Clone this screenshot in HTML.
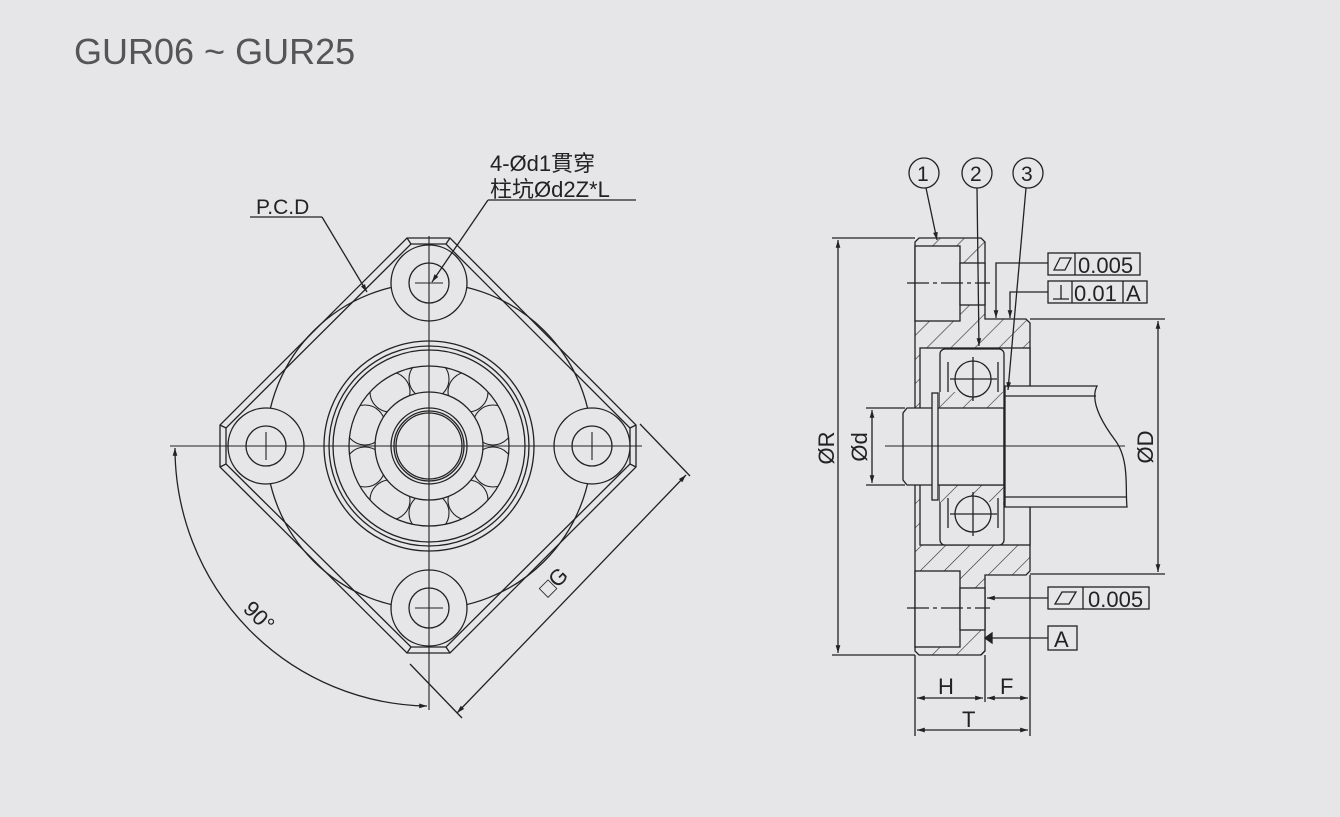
<!DOCTYPE html>
<html><head><meta charset="utf-8"><style>
html,body{margin:0;padding:0;background:#e6e6e8;}
svg{display:block;}
text{font-family:"Liberation Sans","Noto Sans CJK TC",sans-serif;fill:#222;}
</style></head><body>
<svg width="1340" height="817" viewBox="0 0 1340 817" xmlns="http://www.w3.org/2000/svg">
<defs>
<pattern id="h" patternUnits="userSpaceOnUse" width="17" height="17" patternTransform="rotate(-45)">
<rect width="17" height="17" fill="#e6e6e8"/><line x1="0" y1="0" x2="17" y2="0" stroke="#333" stroke-width="1.2"/></pattern>
<marker id="a" viewBox="0 0 10 10" refX="10" refY="5" markerWidth="9" markerHeight="6" orient="auto-start-reverse"><path d="M0,2 L10,5 L0,8 z" fill="#222"/></marker>
<clipPath id="ann"><circle cx="429" cy="446" r="80"/></clipPath>
</defs>
<rect width="1340" height="817" fill="#e6e6e8"/>
<text x="74" y="64" font-size="36" style="fill:#555">GUR06 ~ GUR25</text>

<g stroke="#222" stroke-width="1.3" fill="none">
<!-- LEFT VIEW -->
<path d="M407,238 L450,238 L636,425 L636,467 L450,653 L407,653 L220,467 L220,425 Z"/>
<path d="M411,244 L446,244 L630,428 L630,464 L446,647 L411,647 L226,464 L226,428 Z"/>
<line x1="407" y1="238" x2="411" y2="244"/><line x1="450" y1="238" x2="446" y2="244"/>
<line x1="407" y1="653" x2="411" y2="647"/><line x1="450" y1="653" x2="446" y2="647"/>
<line x1="220" y1="425" x2="226" y2="428"/><line x1="220" y1="467" x2="226" y2="464"/>
<line x1="636" y1="425" x2="630" y2="428"/><line x1="636" y1="467" x2="630" y2="464"/>
<circle cx="429" cy="446" r="163"/>
<g fill="#e6e6e8">
<circle cx="429" cy="283" r="38"/><circle cx="429" cy="283" r="20"/>
<circle cx="429" cy="608" r="38"/><circle cx="429" cy="608" r="20"/>
<circle cx="266" cy="446" r="38"/><circle cx="266" cy="446" r="20"/>
<circle cx="592" cy="446" r="38"/><circle cx="592" cy="446" r="20"/>
</g>
<circle cx="429" cy="446" r="105" fill="#e6e6e8"/><circle cx="429" cy="446" r="100"/><circle cx="429" cy="446" r="96"/>
<circle cx="429" cy="446" r="80"/>
<g clip-path="url(#ann)" stroke-width="1.1">
<circle cx="429" cy="379" r="20"/><circle cx="468" cy="392" r="20"/><circle cx="493" cy="425" r="20"/><circle cx="493" cy="467" r="20"/>
<circle cx="468" cy="500" r="20"/><circle cx="429" cy="513" r="20"/><circle cx="390" cy="500" r="20"/><circle cx="365" cy="467" r="20"/>
<circle cx="365" cy="425" r="20"/><circle cx="390" cy="392" r="20"/>
</g>
<circle cx="429" cy="446" r="54" fill="#e6e6e8"/>
<circle cx="429" cy="446" r="38"/><circle cx="429" cy="446" r="35"/><circle cx="429" cy="446" r="33"/>
<g stroke-width="1.1">
<line x1="429" y1="236" x2="429" y2="710"/>
<line x1="170" y1="446" x2="642" y2="446"/>
<line x1="415" y1="283" x2="443" y2="283"/><line x1="415" y1="608" x2="443" y2="608"/>
<line x1="266" y1="432" x2="266" y2="460"/><line x1="592" y1="432" x2="592" y2="460"/>
</g>
<path d="M175,448 A256,258 0 0 0 427,706" marker-start="url(#a)" marker-end="url(#a)"/>
<line x1="410" y1="664" x2="462" y2="718"/>
<line x1="640" y1="424" x2="690" y2="476"/>
<line x1="457" y1="713" x2="686" y2="475" marker-start="url(#a)" marker-end="url(#a)"/>
<line x1="250" y1="217" x2="322" y2="217"/>
<line x1="322" y1="217" x2="367" y2="292" marker-end="url(#a)"/>
<line x1="488" y1="200" x2="636" y2="200"/>
<line x1="488" y1="200" x2="432" y2="282" marker-end="url(#a)"/>

<!-- RIGHT VIEW -->
<path d="M919,238 L981,238 L985,242 L985,319 L1026,319 L1030,323 L1030,571 L1026,575 L985,575 L985,651 L981,655 L919,655 L915,651 L915,242 Z" fill="url(#h)"/>
<rect x="920" y="348" width="110" height="197" fill="#e6e6e8"/>
<rect x="915" y="246" width="45" height="75" fill="#e6e6e8"/>
<rect x="960" y="263" width="25" height="42" fill="#e6e6e8"/>
<rect x="915" y="571" width="45" height="76" fill="#e6e6e8"/>
<rect x="960" y="588" width="25" height="42" fill="#e6e6e8"/>
<line x1="907" y1="283" x2="990" y2="283" stroke-dasharray="22,4,4,4"/>
<line x1="907" y1="608" x2="990" y2="608" stroke-dasharray="22,4,4,4"/>
<rect x="940" y="349" width="64" height="196" rx="5" fill="#e6e6e8"/>
<rect x="940" y="392" width="64" height="17" fill="url(#h)" stroke="none"/>
<rect x="940" y="485" width="64" height="17" fill="url(#h)" stroke="none"/>
<line x1="940" y1="409" x2="1004" y2="409"/><line x1="940" y1="485" x2="1004" y2="485"/>
<circle cx="973" cy="379" r="18" fill="#e6e6e8"/><circle cx="973" cy="514" r="18" fill="#e6e6e8"/>
<line x1="973" y1="357" x2="973" y2="401"/><line x1="950" y1="379" x2="997" y2="379"/>
<line x1="973" y1="492" x2="973" y2="536"/><line x1="950" y1="514" x2="997" y2="514"/>
<path d="M948,362 v30 M998,362 v30 M948,498 v30 M998,498 v30"/>
<path d="M907,408 L1004,408 L1004,485 L907,485 L903,480 L903,413 Z" fill="#e6e6e8"/>
<rect x="932" y="393" width="6" height="107" fill="#e6e6e8"/>
<path d="M1005,386 L1097,386 C1090,400 1100,420 1115,440 C1130,460 1125,490 1127,507 L1005,507 Z" fill="#e6e6e8"/>
<line x1="1005" y1="396" x2="1096" y2="396"/><line x1="1005" y1="497" x2="1127" y2="497"/>
<line x1="1004" y1="390" x2="1004" y2="505"/>
<line x1="885" y1="446" x2="1125" y2="446" stroke-width="1.1"/>
<line x1="832" y1="238" x2="915" y2="238"/><line x1="832" y1="655" x2="915" y2="655"/>
<line x1="838" y1="240" x2="838" y2="653" marker-start="url(#a)" marker-end="url(#a)"/>
<line x1="866" y1="408" x2="905" y2="408"/><line x1="866" y1="485" x2="905" y2="485"/>
<line x1="872" y1="410" x2="872" y2="483" marker-start="url(#a)" marker-end="url(#a)"/>
<line x1="1030" y1="319" x2="1165" y2="319"/><line x1="1030" y1="574" x2="1165" y2="574"/>
<line x1="1158" y1="321" x2="1158" y2="572" marker-start="url(#a)" marker-end="url(#a)"/>
<circle cx="924" cy="173" r="15"/><circle cx="977" cy="173" r="15"/><circle cx="1028" cy="173" r="15"/>
<line x1="926" y1="188" x2="937" y2="240" marker-end="url(#a)"/>
<line x1="977" y1="188" x2="979" y2="346" marker-end="url(#a)"/>
<line x1="1026" y1="188" x2="1008" y2="390" marker-end="url(#a)"/>
<rect x="1048" y="253" width="92" height="22"/><line x1="1075" y1="253" x2="1075" y2="275"/>
<path d="M1054,270 L1060,258 L1071,258 L1065,270 Z"/>
<path d="M1048,263 L996,263 L996,318" marker-end="url(#a)"/>
<rect x="1048" y="281" width="99" height="22"/><line x1="1072" y1="281" x2="1072" y2="303"/><line x1="1123" y1="281" x2="1123" y2="303"/>
<path d="M1053,299 L1069,299 M1061,299 L1061,285"/>
<path d="M1048,292 L1010,292 L1010,318" marker-end="url(#a)"/>
<rect x="1048" y="587" width="101" height="22"/><line x1="1083" y1="587" x2="1083" y2="609"/>
<path d="M1055,604 L1062,592 L1076,592 L1069,604 Z"/>
<line x1="1048" y1="598" x2="987" y2="598" marker-end="url(#a)"/>
<rect x="1048" y="626" width="29" height="24"/>
<line x1="1048" y1="638" x2="991" y2="638"/>
<path d="M985,638 L992,633 L992,643 Z" fill="#222"/>
<line x1="915" y1="655" x2="915" y2="736"/><line x1="985" y1="655" x2="985" y2="702"/><line x1="1030" y1="575" x2="1030" y2="736"/>
<line x1="917" y1="698" x2="983" y2="698" marker-start="url(#a)" marker-end="url(#a)"/>
<line x1="987" y1="698" x2="1028" y2="698" marker-start="url(#a)" marker-end="url(#a)"/>
<line x1="917" y1="730" x2="1028" y2="730" marker-start="url(#a)" marker-end="url(#a)"/>
</g>

<g font-size="22">
<text x="256" y="214" font-size="21">P.C.D</text>
<text x="490" y="171">4-Ød1貫穿</text>
<text x="490" y="197">柱坑Ød2Z*L</text>
<text x="917" y="181" font-size="21">1</text>
<text x="970" y="181" font-size="21">2</text>
<text x="1021" y="181" font-size="21">3</text>
<text x="1078" y="273">0.005</text>
<text x="1074" y="301">0.01</text>
<text x="1126" y="301">A</text>
<text x="1088" y="607">0.005</text>
<text x="1054" y="647">A</text>
<text x="938" y="694">H</text>
<text x="1000" y="694">F</text>
<text x="962" y="727">T</text>
<text transform="translate(834,448) rotate(-90)" text-anchor="middle">ØR</text>
<text transform="translate(867,447) rotate(-90)" text-anchor="middle">Ød</text>
<text transform="translate(1153,447) rotate(-90)" text-anchor="middle">ØD</text>
<text transform="translate(242,610) rotate(45)">90°</text>
<text transform="translate(548,598) rotate(-45)">□G</text>
</g>
</svg>
</body></html>
